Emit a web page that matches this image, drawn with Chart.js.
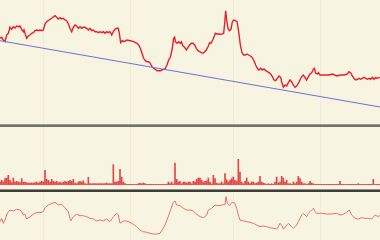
<!DOCTYPE html>
<html>
<head>
<meta charset="utf-8">
<script src="https://cdn.jsdelivr.net/npm/chart.js@4.4.1/dist/chart.umd.min.js"></script>
<style>
  html, body { margin: 0; padding: 0; background: #f8f4e2; }
  #wrap { position: relative; width: 380px; height: 240px; overflow: hidden; background: #f8f4e2; }
  canvas { position: absolute; left: 0; }
  .sep { position: absolute; left: 0; width: 380px; }
</style>
</head>
<body>
<div id="wrap">
  <canvas id="priceChart" width="380" height="124" style="top:0"></canvas>
  <div class="sep" style="top:124px;height:1px;background:#9c9a90"></div>
  <div class="sep" style="top:125px;height:2px;background:#72716a"></div>
  <canvas id="volumeChart" width="380" height="58" style="top:127px"></canvas>
  <div class="sep" style="top:189px;height:1px;background:#8e8d86"></div>
  <div class="sep" style="top:190px;height:2px;background:#3e3e3c"></div>
  <canvas id="oscChart" width="380" height="48" style="top:192px"></canvas>
</div>
<script>
// trading day index -> close price (top panel)
const priceDays = [
  0, 1, 2, 3, 4, 5, 6, 7, 8, 9, 10, 11, 12, 13, 14, 14.4, 15, 16, 17, 18, 19, 20, 21, 22, 23, 24, 25, 26, 27, 28, 29,
  30, 31, 32, 33, 34, 35, 36, 37, 38, 39, 40, 41, 42, 43, 44, 45, 46, 47, 48, 49, 50, 51, 52, 53, 54, 55, 56, 57, 58, 59,
  60, 61, 62, 63, 64, 65, 66, 67, 68, 69, 70, 71, 71.6, 72.4, 73.4, 74.4, 76.2, 78.2, 80.2, 82.2, 83.2, 84.2, 85.2, 86.2,
  87.2, 88.2, 89.2, 90.2, 91.2, 92.2, 93.2, 94.2, 95.2, 96.2, 97.2, 98.2, 99.2, 100.2, 101.2, 102.2, 103.2, 104.2, 104.8,
  105.2, 106.2, 107.2, 108.2, 108.8, 109.8, 110.8, 111.8, 112.8, 113.8, 114.8, 115.8, 116.8, 117.8, 118.8, 119.8, 120.8,
  121.8, 122.8, 123.8, 124.8, 125.8, 126.6, 127.6, 128.6, 129.2, 130.2, 131.2, 132.2, 133.2, 134.2, 134.8, 135.4, 136,
  136.8, 137.6, 138.6, 139.4, 140.2, 141.2, 142.2, 143.2, 144.2, 145.2, 146.2, 147.2, 148.2, 149.2, 150.2, 151.2, 152.2,
  153.4, 154.4, 155.4, 156.4, 157.4, 158.4, 159.4, 160.4, 161.4, 162.4, 163.4, 164.4, 165.4, 166.4, 167.4, 168.4, 169,
  170, 171, 172, 173, 174, 175, 176, 177, 178, 179, 180, 181, 182, 183, 184, 185, 186, 187, 188, 188.6, 189.4, 190.4,
  191, 192, 193.4, 195.4, 197.4, 199.4, 200.8, 202.4, 204, 205.4, 206.8, 208.4, 209.4, 210.4, 211.4, 212.4, 213.4, 214.4,
  215.4, 216.4, 217.4, 218.4, 219.4, 220.4, 221.4, 222.4, 223.4, 224.4, 225.4, 226.4, 228
];
const closePrice = [
  91.7, 92.7, 90, 88.3, 95, 96.7, 102.7, 100.7, 103.3, 102, 104, 103.3, 104, 100.7, 98.3, 100, 96.7, 91.7, 94, 95, 96.7, 97.3, 99.3, 100, 99.3, 100, 99.3, 100, 106, 108.3, 109.3,
  110.7, 111.7, 113.3, 114.3, 112.7, 111, 112.3, 111, 111.7, 110, 109.3, 106, 101.7, 98.3, 102.7, 105, 104, 101.7, 103.3, 101.7, 102.7, 102.7, 101.7, 100, 101.7, 99.3, 100, 98.3, 98.3, 97.3,
  98.3, 97.3, 98.3, 96.7, 98.3, 97.3, 98.3, 95, 98.3, 100.7, 101.7, 101.7, 96.7, 87.3, 89.3, 88.3, 90, 89.3, 88.3, 86.7, 85, 81.7, 76.7, 71.7,
  69.3, 68.3, 68.3, 66.7, 63.3, 61.7, 60.7, 59.3, 59.3, 59.3, 60, 60.7, 61.7, 65, 70, 72.7, 80, 91.7, 92.7,
  88.3, 86.7, 88.3, 86.7, 88.3, 84, 82.7, 80, 82.7, 85, 86.7, 86.7, 85, 81.7, 79.3, 78.3, 77.3,
  76.7, 78.3, 80, 83.3, 87.3, 86.7, 90, 94, 96.7, 96, 96, 95.7, 96, 96.7, 106.7, 119.3, 110,
  101.7, 99.3, 100.7, 108.3, 110, 109.3, 108.3, 98.3, 85, 77.3, 75, 75, 76, 75, 74, 72.7, 70,
  65, 61.7, 60, 61.7, 60, 61, 59.3, 58.3, 57.3, 56, 53.3, 50, 49.3, 51.7, 54, 52.7, 48.3,
  42.7, 45, 44, 47.3, 50, 48.3, 45, 42.7, 44, 46.7, 50, 53.3, 55, 52.7, 50, 53.3, 56, 57.3, 60.7, 61.7, 56.7, 56,
  57.3, 55, 55, 55, 55, 56, 55, 54, 55, 55, 55, 56, 58.3, 57.3, 54, 51.7, 50, 50.7,
  51.7, 50.7, 51.7, 52.7, 51.7, 50.7, 51.7, 50.7, 52.7, 50.7, 52.7, 51.7, 52.7
];

// straight trend line through the period
const trendDays = [0, 228];
const trendPrice = [89.3, 23];

// daily volume, one value per trading day 0..228
const volume = [
  300, 470, 300, 630, 700, 970, 470, 250, 700, 300, 370, 300, 250, 630, 300, 300, 230, 200, 200, 200,
  200, 230, 300, 200, 300, 370, 300, 1470, 570, 470, 300, 570, 370, 300, 370, 230, 300, 200, 300, 370,
  300, 370, 470, 370, 570, 200, 130, 300, 370, 300, 430, 130, 100, 770, 130, 130, 130, 130, 130, 130,
  130, 130, 130, 130, 200, 130, 130, 130, 2030, 300, 300, 370, 1570, 800, 300, 130, 70, 70, 70, 70,
  70, 70, 70, 130, 200, 130, 200, 130, 70, 70, 70, 70, 70, 70, 70, 70, 70, 70, 70, 70,
  70, 300, 130, 300, 100, 2200, 570, 300, 370, 130, 300, 300, 200, 300, 300, 130, 370, 300, 570, 700,
  700, 470, 300, 370, 430, 700, 300, 130, 970, 630, 200, 130, 130, 300, 130, 1130, 530, 300, 470, 630,
  800, 470, 370, 2570, 1300, 300, 130, 370, 700, 300, 130, 300, 300, 130, 200, 300, 870, 300, 200, 130,
  70, 130, 70, 130, 70, 300, 800, 200, 300, 870, 700, 300, 470, 130, 130, 70, 300, 130, 300, 870,
  630, 300, 130, 130, 70, 130, 370, 200, 130, 70, 70, 70, 70, 70, 70, 70, 70, 70, 70, 70,
  70, 70, 70, 70, 370, 70, 70, 70, 70, 70, 70, 70, 70, 70, 70, 130, 70, 70, 70, 70,
  70, 70, 70, 70, 570, 70, 70, 70, 70
];

// lower panel oscillator
const oscDays = [
  0, 1, 2, 3, 4, 5, 6, 8, 10, 12, 13, 14, 15, 16, 18, 20, 22, 24, 26, 27, 29, 31, 33, 35, 37, 39, 41, 42.4, 44, 46,
  48, 50, 52, 54, 56, 58, 60, 62, 64, 66, 68, 70, 71, 72, 74, 76, 78, 80, 82, 84, 86, 88, 90, 92, 94, 96, 98, 100,
  102, 104, 105, 106, 108, 110, 112, 114, 116, 118, 120, 122, 124, 125, 127, 129, 131, 133, 135, 135.6, 136.4, 137.6,
  138.6, 139.6, 141, 142, 143, 144, 146, 148, 150, 152, 154, 156, 158, 160, 162, 164, 166, 167, 168, 169, 170, 171,
  172, 173, 174, 175, 176, 177, 178, 179, 180, 181, 182, 183, 184, 185, 186, 187, 188, 189, 190, 193, 196, 199, 202,
  204, 206, 208, 209.6, 211, 213, 215, 217, 219, 221, 223, 225, 227, 228
];
const oscValue = [
  18.3, 21.7, 16.7, 20, 25, 28.3, 30, 29, 30.7, 30, 28.3, 25, 25.7, 21, 23.3, 25.7, 27.7, 27.3, 28.3, 32.3, 35, 36.7, 37.7, 35, 35.7, 32.3, 28.3, 19, 23.3, 25.7,
  24.3, 24.3, 23.3, 21.7, 21, 19, 20, 19, 21, 18.3, 23.3, 26.7, 25, 16.7, 19, 19, 17.7, 15.7, 13.3, 10, 8.3, 7.7, 6.7, 6, 6, 6.7, 11.7, 19,
  28.3, 37.7, 39, 35, 34.3, 31.7, 30, 30, 29, 25.7, 23.3, 22.3, 25, 30, 31.7, 35, 34.3, 35, 35.7, 43.3, 36.7, 34.3,
  36.7, 37.7, 36.7, 31.7, 25, 20, 19, 18.3, 17.7, 16.7, 15, 13.3, 14, 13.3, 12.3, 11.7, 11, 13.3, 16.7, 15, 11, 12.3,
  15, 16.7, 15, 13.3, 11.7, 13.3, 15, 18.3, 21.7, 25, 26.7, 25, 23.3, 26.7, 28.3, 30, 31.7, 28.3, 26.7, 26.7, 26, 26, 26.7,
  25, 25.7, 27.7, 30, 25, 21.7, 21, 22.3, 21.7, 21.7, 21, 25, 23.3, 25
];

// faint vertical grid positions (trading days)
const gridDays = [26, 78, 140, 192];

const gridColor = '#f1ecd6';

function baseOptions(yMin, yMax) {
  return {
    responsive: false,
    devicePixelRatio: 1,
    animation: false,
    events: [],
    layout: { padding: 0 },
    plugins: { legend: { display: false }, tooltip: { enabled: false } },
    scales: {
      x: {
        type: 'linear',
        min: 0,
        max: 228,
        offset: false,
        ticks: { display: false },
        grid: { color: gridColor, lineWidth: 1, drawTicks: false, offset: false },
        border: { display: false },
        afterBuildTicks: (axis) => { axis.ticks = gridDays.map(v => ({ value: v })); }
      },
      y: { display: false, min: yMin, max: yMax }
    }
  };
}

new Chart(document.getElementById('priceChart'), {
  type: 'line',
  data: {
    datasets: [
      {
        data: trendDays.map((d, i) => ({ x: d, y: trendPrice[i] })),
        borderColor: '#6f6fd6',
        borderWidth: 1,
        pointRadius: 0,
        tension: 0
      },
      {
        data: priceDays.map((d, i) => ({ x: d, y: closePrice[i] })),
        borderColor: '#e81e2a',
        borderWidth: 1.4,
        pointRadius: 0,
        tension: 0
      }
    ]
  },
  options: baseOptions(6, 130)
});

new Chart(document.getElementById('volumeChart'), {
  type: 'bar',
  data: {
    datasets: [{
      data: volume.map((v, i) => ({ x: i, y: v })),
      backgroundColor: 'rgba(226, 36, 40, 0.85)',
      barThickness: 1,
      borderWidth: 0
    }]
  },
  options: baseOptions(0, 5800)
});

new Chart(document.getElementById('oscChart'), {
  type: 'line',
  data: {
    datasets: [{
      data: oscDays.map((d, i) => ({ x: d, y: oscValue[i] })),
      borderColor: '#e8706a',
      borderWidth: 1,
      pointRadius: 0,
      tension: 0
    }]
  },
  options: baseOptions(0, 48)
});
</script>
</body>
</html>
